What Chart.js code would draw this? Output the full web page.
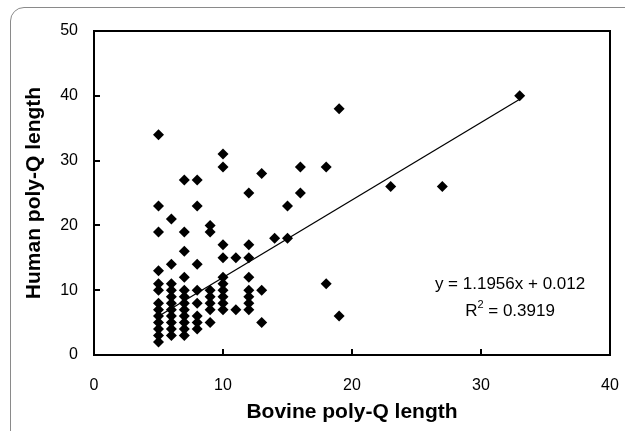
<!DOCTYPE html>
<html>
<head>
<meta charset="utf-8">
<script src="https://cdn.jsdelivr.net/npm/chart.js@4.4.1/dist/chart.umd.min.js"></script>
<style>
    html, body { margin: 0; padding: 0; background: #fff; overflow: hidden; }
    .wrap { position: relative; width: 625px; height: 431px; }
    .card {
        position: absolute; left: 10px; top: 7px; width: 700px; height: 520px;
        border: 1px solid #8a8a8a; border-radius: 14px;
    }
    #chart { position: absolute; left: 0; top: 0; }
</style>
</head>
<body>
<div class="wrap">
    <div class="card"></div>
    <canvas id="chart" width="625" height="431"></canvas>
</div>
<script>
// Poly-Q lengths (x = bovine, y = human)
const bovineLen = [
    5, 5, 5, 5, 5, 5, 5, 5, 5, 5, 5, 5, 5,
    6, 6, 6, 6, 6, 6, 6, 6, 6, 6, 6,
    7, 7, 7, 7, 7, 7, 7, 7, 7, 7, 7, 7,
    8, 8, 8, 8, 8, 8, 8, 8,
    9, 9, 9, 9, 9, 9, 9,
    10, 10, 10, 10, 10, 10, 10, 10, 10, 10,
    11, 11,
    12, 12, 12, 12, 12, 12, 12, 12,
    13, 13, 13,
    14,
    15, 15,
    16, 16,
    18, 18,
    19, 19,
    23, 27, 33
];
const humanLen = [
    2, 3, 4, 5, 6, 7, 8, 10, 11, 13, 19, 23, 34,
    3, 4, 5, 6, 7, 8, 9, 10, 11, 14, 21,
    3, 4, 5, 6, 7, 8, 9, 10, 12, 16, 19, 27,
    4, 5, 6, 8, 10, 14, 23, 27,
    5, 7, 8, 9, 10, 19, 20,
    7, 8, 9, 10, 11, 12, 15, 17, 29, 31,
    7, 15,
    7, 8, 9, 10, 12, 15, 17, 25,
    5, 10, 28,
    18,
    18, 23,
    25, 29,
    11, 29,
    6, 38,
    26, 26, 40
];

// Excel linear trendline shown on the chart
const trendSlope = 1.1956;
const trendIntercept = 0.012;
const trendLabel = 'y = 1.1956x + 0.012';
const r2Value = '0.3919';

const xTicks = [0, 10, 20, 30, 40];
const yTicks = [0, 10, 20, 30, 40, 50];

const points = bovineLen.map((x, i) => ({ x: x, y: humanLen[i] }));
const xMin = Math.min(...bovineLen);
const xMax = Math.max(...bovineLen);
const trendPoints = [
    { x: xMin, y: trendSlope * xMin + trendIntercept },
    { x: xMax, y: trendSlope * xMax + trendIntercept }
];

const FONT = '"Liberation Sans", Arial, sans-serif';

// frame, inward tick marks and the equation text
const framePlugin = {
    id: 'frame',
    afterDraw(chart) {
        const c = chart.ctx;
        const a = chart.chartArea;
        const xs = chart.scales.x;
        const ys = chart.scales.y;
        c.save();
        c.strokeStyle = '#000';
        c.lineWidth = 2;
        c.strokeRect(a.left, a.top, a.right - a.left, a.bottom - a.top);

        c.beginPath();
        xTicks.forEach(v => {
            const px = Math.round(xs.getPixelForValue(v));
            c.moveTo(px, a.bottom);
            c.lineTo(px, a.bottom - 6);
        });
        yTicks.forEach(v => {
            const py = Math.round(ys.getPixelForValue(v));
            c.moveTo(a.left, py);
            c.lineTo(a.left + 6, py);
        });
        c.stroke();

        // trendline equation
        const cx = xs.getPixelForValue(32.25);
        const y1 = ys.getPixelForValue(10.9);
        const y2 = ys.getPixelForValue(6.8);
        c.fillStyle = '#000';
        c.textBaseline = 'middle';
        c.textAlign = 'center';
        c.font = '17px ' + FONT;
        c.fillText(trendLabel, cx, y1);

        const restText = ' = ' + r2Value;
        const wR = c.measureText('R').width;
        const wRest = c.measureText(restText).width;
        c.font = '11px ' + FONT;
        const wSup = c.measureText('2').width;
        let sx = cx - (wR + wSup + wRest) / 2;
        c.textAlign = 'left';
        c.font = '17px ' + FONT;
        c.fillText('R', sx, y2);
        c.font = '11px ' + FONT;
        c.fillText('2', sx + wR, y2 - 6);
        c.font = '17px ' + FONT;
        c.fillText(restText, sx + wR + wSup, y2);
        c.restore();
    }
};

const ctx = document.getElementById('chart').getContext('2d');
const chart = new Chart(ctx, {
    type: 'scatter',
    data: {
        datasets: [
            {
                label: 'Linear trend',
                data: trendPoints,
                showLine: true,
                borderColor: '#000',
                borderWidth: 1.3,
                pointRadius: 0,
                fill: false,
                order: 0
            },
            {
                label: 'Poly-Q length',
                data: points,
                pointStyle: 'rectRot',
                pointRadius: 5.5,
                pointHoverRadius: 5.5,
                backgroundColor: '#000',
                borderColor: '#000',
                borderWidth: 0,
                order: 1
            }
        ]
    },
    options: {
        responsive: false,
        animation: false,
        layout: { padding: { top: 31, right: 15, left: 0, bottom: 0 } },
        plugins: {
            legend: { display: false },
            tooltip: { enabled: false }
        },
        scales: {
            x: {
                type: 'linear',
                min: 0,
                max: 40,
                afterBuildTicks: scale => { scale.ticks = xTicks.map(v => ({ value: v })); },
                afterFit: scale => { scale.height = 76; },
                ticks: { color: '#000', padding: 0, font: { family: FONT, size: 16 } },
                // invisible tick marks only push the labels down
                grid: { display: true, drawOnChartArea: false, drawTicks: true, tickLength: 21, tickColor: 'rgba(0,0,0,0)' },
                border: { display: false },
                title: {
                    display: true,
                    text: 'Bovine poly-Q length',
                    color: '#000',
                    font: { family: FONT, size: 21, weight: 'bold' },
                    padding: { top: 0, bottom: 6 }
                }
            },
            y: {
                type: 'linear',
                min: 0,
                max: 50,
                afterBuildTicks: scale => { scale.ticks = yTicks.map(v => ({ value: v })); },
                afterFit: scale => { scale.width = 94; },
                ticks: { color: '#000', padding: 16, font: { family: FONT, size: 16 } },
                grid: { display: false, drawTicks: false },
                border: { display: false },
                title: {
                    display: true,
                    text: 'Human poly-Q length',
                    color: '#000',
                    font: { family: FONT, size: 21, weight: 'bold' },
                    padding: { top: 22, bottom: 0 }
                }
            }
        }
    },
    plugins: [framePlugin]
});
</script>
</body>
</html>
